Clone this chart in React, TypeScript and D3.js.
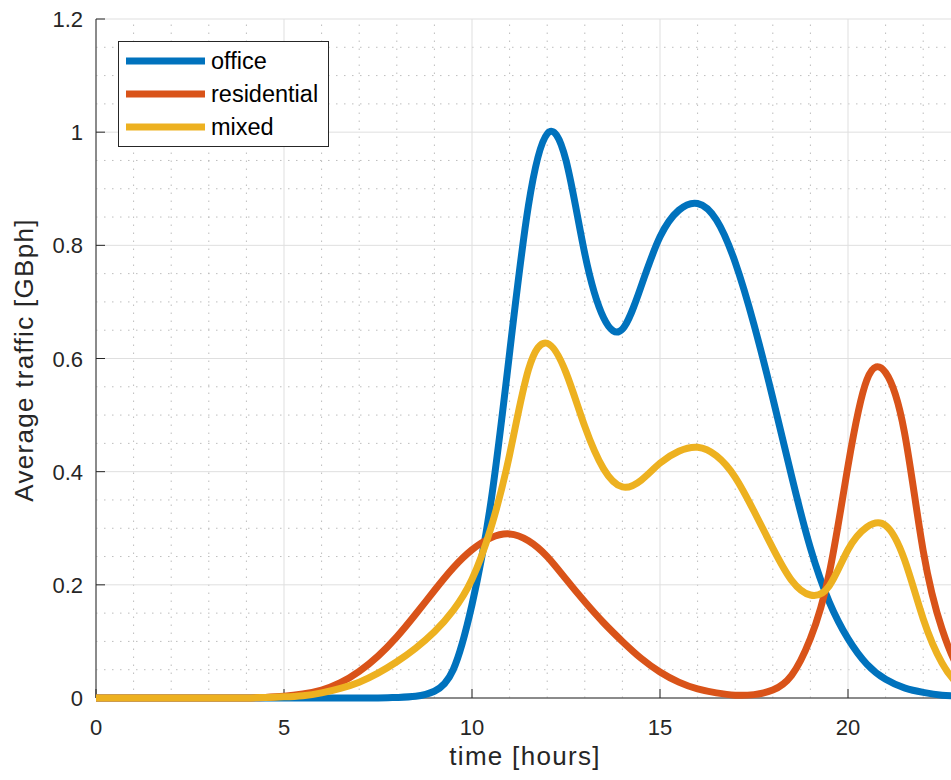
import React from "react";
import * as d3 from "d3";

const hours: number[] = d3.range(0, 24.01, 0.5);

const office: number[] = [
  0, 0, 0, 0, 0, 0, 0, 0, 0, 0, // 0-4.5
  0, 0, 0, 0, 0, 0, 0.001, 0.003, // 5-8.5
  0.012, 0.05, 0.165, 0.345, 0.61, 0.87, 0.997, 0.95, // 9-12.5
  0.785, 0.672, 0.652, 0.728, 0.815, 0.862, 0.874, 0.845, // 13-16.5
  0.77, 0.66, 0.53, 0.392, 0.265, 0.17, 0.105, 0.06, // 17-20.5
  0.033, 0.018, 0.01, 0.005, 0.003, 0.001, 0 // 21-24
];

const residential: number[] = [
  0, 0, 0, 0, 0, 0, 0, 0, 0, 0.001, // 0-4.5
  0.003, 0.007, 0.014, 0.027, 0.047, 0.074, 0.108, 0.148, // 5-8.5
  0.19, 0.23, 0.262, 0.283, 0.29, 0.278, 0.25, 0.21, // 9-12.5
  0.17, 0.133, 0.1, 0.07, 0.046, 0.028, 0.016, 0.009, // 13-16.5
  0.005, 0.006, 0.014, 0.04, 0.105, 0.22, 0.41, 0.562, // 17-20.5
  0.575, 0.47, 0.26, 0.122, 0.045, 0.015, 0.005 // 21-24
];

const mixed: number[] = [
  0, 0, 0, 0, 0, 0, 0, 0, 0, 0.001, // 0-4.5
  0.002, 0.004, 0.009, 0.017, 0.028, 0.044, 0.064, 0.088, // 5-8.5
  0.117, 0.155, 0.21, 0.3, 0.43, 0.58, 0.627, 0.575, // 9-12.5
  0.48, 0.405, 0.373, 0.385, 0.415, 0.436, 0.443, 0.428, // 13-16.5
  0.39, 0.33, 0.265, 0.208, 0.182, 0.198, 0.262, 0.302, // 17-20.5
  0.305, 0.245, 0.14, 0.062, 0.02, 0.006, 0.002 // 21-24
];

const seriesNames: string[] = ["office", "residential", "mixed"];
const seriesColors: string[] = ["#0072BD", "#D95319", "#EDB120"];
const xMajorTicks: number[] = [0, 5, 10, 15, 20];
const yMajorTicks: number[] = [0, 0.2, 0.4, 0.6, 0.8, 1, 1.2];
const yTickLabels: string[] = ["0", "0.2", "0.4", "0.6", "0.8", "1", "1.2"];

export default function App() {
  const W = 951, H = 780;
  const left = 96, top = 19, bottom = 698;
  const pxPerHour = 37.6;
  const x = d3.scaleLinear().domain([0, 24]).range([left, left + 24 * pxPerHour]);
  const y = d3.scaleLinear().domain([0, 1.2]).range([bottom, top]);
  const right = x(24);

  const xMinor = d3.range(0, 24.01, 1).filter((v) => v % 5 !== 0);
  const yMinor = d3.range(0, 1.2001, 0.05).filter((v) => Math.abs(v / 0.2 - Math.round(v / 0.2)) > 0.01);

  const line = (vals: number[]) =>
    d3
      .line<number>()
      .x((_, i) => x(hours[i]))
      .y((v) => y(v))
      .curve(d3.curveNatural)(vals) || "";

  const allSeries = [office, residential, mixed];
  const textColor = "#262626";
  const font = "Arial, 'Liberation Sans', Helvetica, sans-serif";

  return (
    <svg
      width={W}
      height={H}
      style={{ position: "absolute", left: 0, top: 0, background: "#fff" }}
      fontFamily={font}
    >
      <rect x={0} y={0} width={W} height={H} fill="#fff" />
      {/* minor grid */}
      <g stroke="#bdbdbd" strokeWidth={1} strokeDasharray="1.5,6.5">
        {xMinor.map((v) => (
          <line key={"xm" + v} x1={x(v)} x2={x(v)} y1={bottom} y2={top} />
        ))}
        {yMinor.map((v) => (
          <line key={"ym" + v} x1={left} x2={right} y1={y(v)} y2={y(v)} />
        ))}
      </g>
      {/* major grid */}
      <g stroke="#dfdfdf" strokeWidth={1}>
        {xMajorTicks.map((v) => (
          <line key={"xM" + v} x1={x(v)} x2={x(v)} y1={bottom} y2={top} />
        ))}
        {yMajorTicks.map((v) => (
          <line key={"yM" + v} x1={left} x2={right} y1={y(v)} y2={y(v)} />
        ))}
      </g>
      {/* axes */}
      <g stroke={textColor} strokeWidth={1}>
        <line x1={left} x2={left} y1={top} y2={bottom} />
        <line x1={left} x2={right} y1={bottom} y2={bottom} />
        {yMajorTicks.map((v) => (
          <line key={"yt" + v} x1={left} x2={left + 9} y1={y(v)} y2={y(v)} />
        ))}
        {xMajorTicks.map((v) => (
          <line key={"xt" + v} x1={x(v)} x2={x(v)} y1={bottom} y2={bottom - 9} />
        ))}
      </g>
      {/* tick labels */}
      <g fill={textColor} fontSize={22}>
        {yMajorTicks.map((v, i) => (
          <text key={"yl" + v} x={left - 13} y={y(v) + 8} textAnchor="end">
            {yTickLabels[i]}
          </text>
        ))}
        {xMajorTicks.map((v) => (
          <text key={"xl" + v} x={x(v)} y={735} textAnchor="middle">
            {String(v)}
          </text>
        ))}
      </g>
      {/* axis labels */}
      <text x={525} y={765} textAnchor="middle" fontSize={26} letterSpacing={1.3} fill={textColor}>
        time [hours]
      </text>
      <text
        transform={`translate(33, 360) rotate(-90)`}
        textAnchor="middle"
        fontSize={26}
        letterSpacing={1.3}
        fill={textColor}
      >
        Average traffic [GBph]
      </text>
      {/* series */}
      <g fill="none" strokeWidth={7} strokeLinejoin="round" strokeLinecap="butt">
        {allSeries.map((s, i) => (
          <path key={seriesNames[i]} d={line(s)} stroke={seriesColors[i]} />
        ))}
      </g>
      {/* legend */}
      <g>
        <rect x={118.5} y={41.5} width={210} height={105} fill="#fff" stroke={textColor} strokeWidth={1} />
        {seriesNames.map((n, i) => (
          <g key={"lg" + n}>
            <line x1={126} x2={205} y1={61 + i * 33} y2={61 + i * 33} stroke={seriesColors[i]} strokeWidth={7} />
            <text x={211} y={69 + i * 33} fontSize={23.5} fill="#000">
              {n}
            </text>
          </g>
        ))}
      </g>
    </svg>
  );
}
